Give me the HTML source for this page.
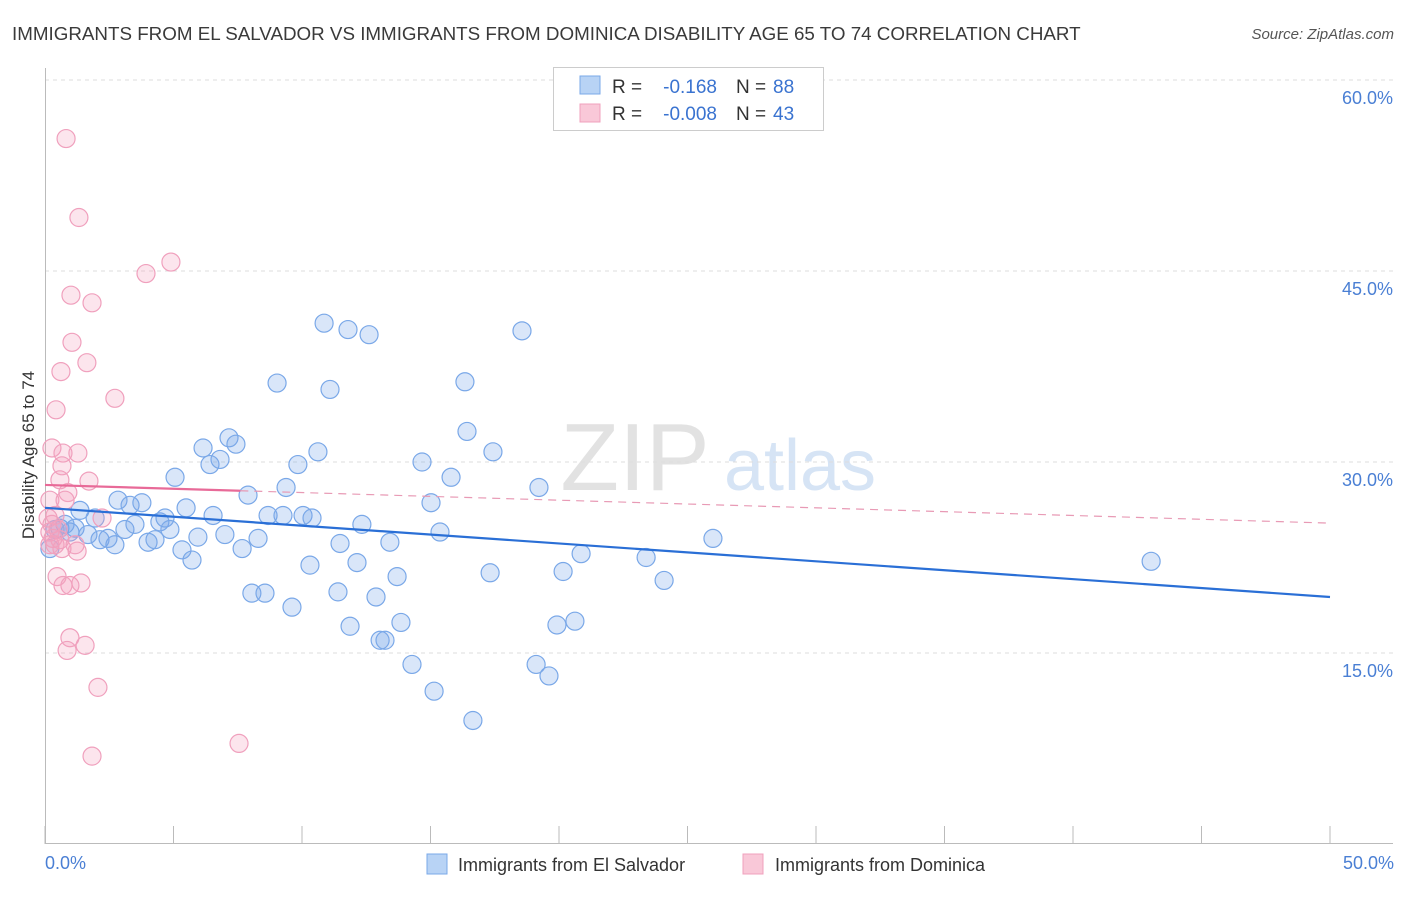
<!DOCTYPE html>
<html><head><meta charset="utf-8"><style>
body{margin:0;background:#fff;font-family:"Liberation Sans",sans-serif;}
svg text{font-family:"Liberation Sans",sans-serif;}
</style></head><body>
<svg width="1406" height="892" xmlns="http://www.w3.org/2000/svg">
<text x="12" y="40" font-size="18.8" fill="#3a3a3a">IMMIGRANTS FROM EL SALVADOR VS IMMIGRANTS FROM DOMINICA DISABILITY AGE 65 TO 74 CORRELATION CHART</text>
<text x="1394" y="39" font-size="15" fill="#555" text-anchor="end" font-style="italic">Source: ZipAtlas.com</text>
<g>
<text x="635" y="490" font-size="96" fill="#e2e2e2" font-family="Liberation Serif" text-anchor="middle">ZIP</text>
<text x="800" y="490" font-size="72" fill="#d6e4f5" text-anchor="middle">atlas</text>
</g>
<g id="grid"></g>
<g id="axes"></g>
<g id="marks"></g>
<text x="34" y="455" font-size="17" fill="#333" text-anchor="middle" transform="rotate(-90 34 455)">Disability Age 65 to 74</text>
<text x="45" y="869" font-size="18" fill="#4a7fd4">0.0%</text>
<text x="1394" y="869" font-size="18" fill="#4a7fd4" text-anchor="end">50.0%</text>
<g>
<rect x="553.5" y="67.5" width="270" height="63" fill="#fff" stroke="#ccc"/>
<rect x="580" y="76" width="20" height="18" fill="#b8d3f5" stroke="#7aa8e8"/>
<rect x="580" y="104" width="20" height="18" fill="#f9c8d8" stroke="#f0a0bd"/>
<text x="612" y="93" font-size="19" fill="#333">R =</text>
<text x="717" y="93" font-size="19" fill="#3a73d0" text-anchor="end">-0.168</text>
<text x="736" y="93" font-size="19" fill="#333">N =</text>
<text x="773" y="93" font-size="19" fill="#3a73d0">88</text>
<text x="612" y="120" font-size="19" fill="#333">R =</text>
<text x="717" y="120" font-size="19" fill="#3a73d0" text-anchor="end">-0.008</text>
<text x="736" y="120" font-size="19" fill="#333">N =</text>
<text x="773" y="120" font-size="19" fill="#3a73d0">43</text>
</g>
<g>
<rect x="427" y="854" width="20" height="20" fill="#b8d3f5" stroke="#7aa8e8"/>
<text x="458" y="871" font-size="18" fill="#333">Immigrants from El Salvador</text>
<rect x="743" y="854" width="20" height="20" fill="#f9c8d8" stroke="#f0a0bd"/>
<text x="775" y="871" font-size="18" fill="#333">Immigrants from Dominica</text>
</g>
</svg>
<script>
const yTicks=[15,30,45,60];
const yTickLabels=["15.0%","30.0%","45.0%","60.0%"];
const blueX=[0.19,0.39,0.58,0.78,0.97,1.17,1.36,1.67,1.95,2.14,2.45,2.72,2.84,3.11,3.31,3.50,3.77,4.01,4.28,4.47,4.67,4.86,5.06,5.33,5.49,5.72,5.95,6.15,6.42,6.54,6.81,7.00,7.16,7.43,7.67,7.90,8.05,8.29,8.56,8.68,9.03,9.26,9.38,9.61,9.84,10.04,10.31,10.39,10.62,10.86,11.09,11.40,11.48,11.79,11.87,12.14,12.33,12.61,12.88,13.04,13.23,13.42,13.70,13.85,14.28,14.67,15.02,15.14,15.37,15.80,16.34,16.42,16.65,17.32,17.43,18.56,19.11,19.22,19.61,19.92,20.16,20.62,20.86,23.39,24.09,25.99,43.04];
const blueY=[23.2,24.7,24.8,25.1,24.5,24.8,26.2,24.3,25.6,23.9,24.0,23.5,27.0,24.7,26.6,25.1,26.8,23.7,23.9,25.3,25.6,24.7,28.8,23.1,26.4,22.3,24.1,31.1,29.8,25.8,30.2,24.3,31.9,31.4,23.2,27.4,19.7,24.0,19.7,25.8,36.2,25.8,28.0,18.6,29.8,25.8,21.9,25.6,30.8,40.9,35.7,19.8,23.6,40.4,17.1,22.1,25.1,40.0,19.4,16.0,16.0,23.7,21.0,17.4,14.1,30.0,26.8,12.0,24.5,28.8,36.3,32.4,9.7,21.3,30.8,40.3,14.1,28.0,13.2,17.2,21.4,17.5,22.8,22.5,20.7,24.0,22.2];
const pinkX=[0.82,1.32,4.90,3.93,1.01,1.83,1.05,1.63,0.62,2.72,0.43,0.27,1.28,0.70,0.66,1.71,0.58,0.89,0.19,2.22,0.39,0.27,0.19,0.39,0.58,1.25,0.47,0.70,1.40,0.97,1.56,0.86,2.06,7.55,1.83,0.19,0.51,0.78,0.12,0.31,0.66,0.97,1.17];
const pinkY=[55.4,49.2,45.7,44.8,43.1,42.5,39.4,37.8,37.1,35.0,34.1,31.1,30.7,30.7,29.7,28.5,28.6,27.6,27.0,25.6,25.8,25.1,24.5,23.5,23.9,23.0,21.0,20.3,20.5,16.2,15.6,15.2,12.3,7.9,6.9,23.5,24.7,27.0,25.6,24.0,23.2,20.3,23.5];
const blueTrend=[26.4,19.4];
const pinkTrend=[28.2,25.2];
const pinkSolidEnd=7.6;
const NS="http://www.w3.org/2000/svg";
const xs=v=>45+v/50*1285;
const ys=v=>844-v*191/15;
function mk(tag,attrs,parent){const e=document.createElementNS(NS,tag);for(const k in attrs)e.setAttribute(k,attrs[k]);parent.appendChild(e);return e;}
const grid=document.getElementById('grid'),axes=document.getElementById('axes'),marks=document.getElementById('marks');
yTicks.forEach((t,i)=>{
 const l=mk('line',{x1:45,x2:1393,y1:ys(t),y2:ys(t),stroke:'#ddd','stroke-dasharray':'4,4'},grid);
 
 
 const tx=mk('text',{x:1393,y:ys(t)+24,'font-size':18,fill:'#4a7fd4','text-anchor':'end'},grid);
 tx.textContent=yTickLabels[i];
 
 
});
const ax=mk('line',{x1:45,x2:1393,y1:843.5,y2:843.5,stroke:'#bbb'},axes);


const ay=mk('line',{x1:45.5,x2:45.5,y1:68,y2:844,stroke:'#bbb'},axes);


for(let v=0;v<=50;v+=5){
 const t=mk('line',{x1:xs(v),x2:xs(v),y1:826,y2:844,stroke:'#bbb'},axes);
 
 
}
blueX.forEach((x,i)=>{
 const c=mk('circle',{cx:xs(x),cy:ys(blueY[i]),r:9,fill:'rgba(120,165,235,0.28)',stroke:'#7aa8e8','stroke-width':1.2},marks);
 
 
});
pinkX.forEach((x,i)=>{
 const c=mk('circle',{cx:xs(x),cy:ys(pinkY[i]),r:9,fill:'rgba(245,160,190,0.28)',stroke:'#f0a0bd','stroke-width':1.2},marks);
 
 
});
const bt=mk('line',{x1:xs(0),y1:ys(blueTrend[0]),x2:xs(50),y2:ys(blueTrend[1]),stroke:'#2a6fd6','stroke-width':2.2},marks);


const pAt=v=>pinkTrend[0]+(pinkTrend[1]-pinkTrend[0])*v/50;
const ps=mk('line',{x1:xs(0),y1:ys(pinkTrend[0]),x2:xs(pinkSolidEnd),y2:ys(pAt(pinkSolidEnd)),stroke:'#e86a98','stroke-width':2.2},marks);


const pd=mk('line',{x1:xs(pinkSolidEnd),y1:ys(pAt(pinkSolidEnd)),x2:xs(50),y2:ys(pinkTrend[1]),stroke:'#e89ab5','stroke-width':1.2,'stroke-dasharray':'8,6'},marks);


</script>
</body></html>
